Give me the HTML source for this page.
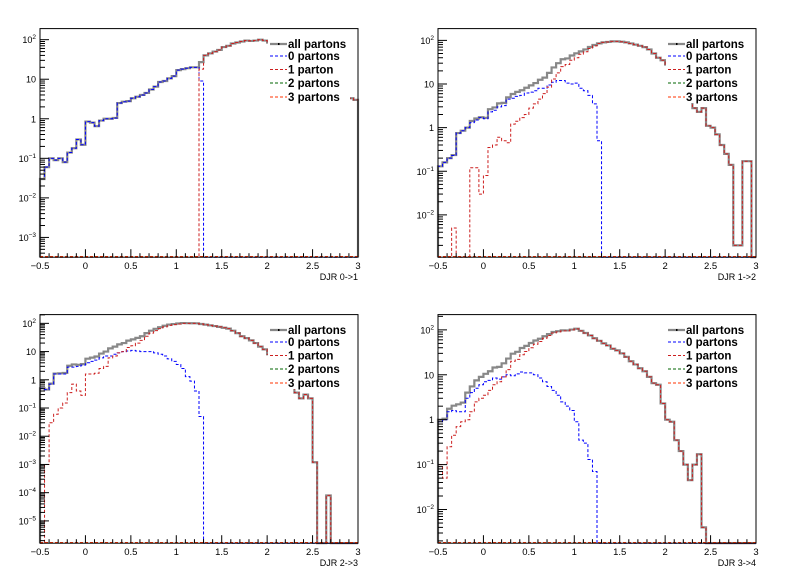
<!DOCTYPE html>
<html><head><meta charset="utf-8">
<style>
html,body{margin:0;padding:0;background:#fff;}
svg{display:block;font-family:"Liberation Sans",Arial,sans-serif;}
</style></head>
<body>
<svg id="chart" width="796" height="572" viewBox="0 0 796 572" xmlns="http://www.w3.org/2000/svg">
<rect x="0" y="0" width="796" height="572" fill="#fff"/>
</svg>
<script>
// Bin settings (DJR axis)
const binLow = -0.5;
const binWidth = 0.05;
const xTickLabels = ["-0.5","0","0.5","1","1.5","2","2.5","3"];
const xTickValues = [-0.5,0,0.5,1,1.5,2,2.5,3];
const panelTitles = ["DJR 0->1","DJR 1->2","DJR 2->3","DJR 3->4"];
const legendLabels = ["all partons","0 partons","1 parton","2 partons","3 partons"];

// Panel 1: DJR 0->1
const p1Zero = [0.03,0.06,0.1,0.09,0.1,0.08,0.14,0.18,0.3,0.22, 0.85,0.8,0.65,0.9,1.0,1.0,1.05,2.5,2.7,2.8, 3.3,3.6,4.0,4.5,5.5,6.5,8.5,9,10.5,12, 17,18,19,20,20,9, 0,0,0,0,0,0,0,0,0,0,0,0,0,0,0,0,0,0,0,0,0,0,0,0,0,0,0,0,0,0,0,0,0,0];
const p1One = [0,0,0,0,0,0,0,0,0,0, 0,0,0,0,0,0,0,0,0,0, 0,0,0,0,0,0,0,0,0,0, 0,0,0,0,0,18, 40,45,50,55,65,70,80,85,90,95,93,95,100,95, 85,75,65,55,45,36,28,22,17,13,10,8,6.5,5.5,4.8,4.2,3.8,3.8,3.3,3];
// Panel 2: DJR 1->2
const p2Zero = [0.13,0.16,0.2,0.23,0.75,0.85,1.0,1.3,1.5,1.7, 1.6,2.3,2.5,3.0,3.2,4.5,4.7,5.2,5.5,6.2, 6.5,7,8,8,9.5,11,12,12,10.5,10, 10.5,8,7,5.5,3.5,0.5, 0,0,0,0,0,0,0,0,0,0,0,0,0,0,0,0,0,0,0,0,0,0,0,0,0,0,0,0,0,0,0,0,0,0];
const p2One = [0,0,0,0.005,0,0,0,0.12,0.12,0.03, 0.08,0.35,0.4,0.6,0.5,0.45,1.2,1.4,1.7,2.0, 2.8,3.5,4.5,6,8.5,13,18,25,28,35, 40,48,55,65,75,85,90,92,95,95, 93,90,85,80,75,70,62,50,40,35, 28,22,17,12,8,5,2.8,2.3,2.8,1.1, 1.0,0.7,0.4,0.25,0.14,0.002,0.002,0.17,0.17,0];
// Panel 3: DJR 2->3
const p3Zero = [0.5,0.45,0.7,1.6,1.6,1.6,2.8,2.8,3,3.3, 4,4.5,5,6,7,7,8,9,10,10.5, 11,10.5,10,10,10,9,8,7,5.5,4.5, 3.5,2.5,1.3,0.9,0.4,0.05, 0,0,0,0,0,0,0,0,0,0,0,0,0,0,0,0,0,0,0,0,0,0,0,0,0,0,0,0,0,0,0,0,0,0];
const p3One = [0,0.001,0.03,0.06,0.1,0.15,0.35,0.7,0.4,0.28, 1.6,1.6,1.7,2.5,3.0,6,7,9,10,14, 16,20,25,35,45,55,65,75,85,90, 95,100,100,100,100,95,90,85,80,75, 70,65,55,45,35,30,25,20,15,12, 8,5,3,2,1.2,0.8,0.35,0.22,0.3,0.22, 0.0012,0,0,0.00008,0,0,0,0,0,0];
// Panel 4: DJR 3->4
const p4Zero = [0.9,1.0,1.5,1.6,1.5,1.5,3,4,5,6, 7,7.5,8.5,8,9,10,9.5,10.5,11.5,11, 11,10,8.5,7,5.5,4.5,3.5,2.5,2,1.6, 0.9,0.35,0.3,0.13,0.07, 0,0,0,0,0,0,0,0,0,0,0,0,0,0,0,0,0,0,0,0,0,0,0,0,0,0,0,0,0,0,0,0,0,0,0];
const p4One = [0.1,0.05,0.25,0.45,0.7,0.9,1.0,1.5,2.5,3, 3.5,4.5,6,7,9,13,20,22,28,33, 40,48,55,65,75,85,90,95,95,100, 105,95,85,75,65,57,50,45,38,35, 30,25,20,17,14,12,9,6.5,6,2.3, 1.0,0.9,0.35,0.2,0.1,0.045,0.1,0.17,0.004,0, 0,0,0,0,0,0,0,0,0,0];

// y-axis log ranges (decades) per panel
const logTop = [2.28,2.27,2.31,2.34];
const logBottom = [-3.5,-2.97,-5.79,-2.75];
const yDecadeLabels = [[2,1,0,-1,-2,-3],[2,1,0,-1,-2],[2,1,0,-1,-2,-3,-4,-5],[2,1,0,-1,-2]];

const zeroSeries = [p1Zero,p2Zero,p3Zero,p4Zero];
const oneSeries = [p1One,p2One,p3One,p4One];

const NS = "http://www.w3.org/2000/svg";
const svg = document.getElementById("chart");
function mk(tag, attrs, parent){
  const e = document.createElementNS(NS, tag);
  for (const k in attrs) e.setAttribute(k, attrs[k]);
  (parent||svg).appendChild(e);
  return e;
}

const padOrigins = [[0,0],[398,0],[0,286],[398,286]];
const colZero = "#0000ff", colOne = "#cc1f1f", colTwo = "#006600", colThree = "#ff3300", colAll = "#888888";

for (let p=0;p<4;p++){
  const ox = padOrigins[p][0], oy = padOrigins[p][1];
  const fx0 = ox+40, fx1 = ox+358, fy0 = oy+28.6, fy1 = oy+257.2;
  const xs = v => fx0 + (v - (-0.5)) / 3.5 * (fx1 - fx0);
  const ys = v => {
    if (v <= 0) return fy1;
    let l = Math.log10(v);
    if (l < logBottom[p]) return fy1;
    return fy0 + (logTop[p] - l) / (logTop[p] - logBottom[p]) * (fy1 - fy0);
  };
  const g = mk("g", {});
  
  

  // histogram path builder
  function histPath(vals){
    let d = "M" + xs(binLow).toFixed(2) + "," + fy1;
    for (let i=0;i<vals.length;i++){
      const xl = xs(binLow + i*binWidth), xr = xs(binLow + (i+1)*binWidth);
      const y = ys(vals[i]).toFixed(2);
      d += " L" + xl.toFixed(2) + "," + y + " L" + xr.toFixed(2) + "," + y;
    }
    d += " L" + xs(binLow + vals.length*binWidth).toFixed(2) + "," + fy1;
    return d;
  }
  const zs = zeroSeries[p], os = oneSeries[p];
  const allVals = zs.map((v,i)=> v + os[i]);

  const pa = mk("path", {d: histPath(allVals), fill:"none", stroke:colAll, "stroke-width":"2.2"}, g);
  
  
  const pz = mk("path", {d: histPath(zs), fill:"none", stroke:colZero, "stroke-width":"1", "stroke-dasharray":"3,2"}, g);
  
  
  const po = mk("path", {d: histPath(os), fill:"none", stroke:colOne, "stroke-width":"1", "stroke-dasharray":"3,2"}, g);
  
  
  const pt = mk("line", {x1:fx0, y1:fy1-0.5, x2:fx1, y2:fy1-0.5, stroke:colThree, "stroke-width":"1.5", "stroke-dasharray":"3,2"}, g);
  
  

  // frame
  const fr = mk("rect", {x:fx0, y:fy0, width:fx1-fx0, height:fy1-fy0, fill:"none", stroke:"#000", "stroke-width":"1"}, g);
  
  

  // x ticks
  const xa = mk("g", {}, g);
  
  
  for (let k=0;k<=35;k++){
    const v = -0.5 + k*0.1;
    const major = (k % 5 === 0);
    const x = xs(v);
    mk("line", {x1:x, y1:fy1, x2:x, y2:fy1-(major?8:4), stroke:"#000", "stroke-width":"1"}, xa);
  }
  for (let k=0;k<xTickValues.length;k++){
    const t = mk("text", {x:xs(xTickValues[k]), y:fy1+12, "font-size":"9.5", "text-anchor":"middle", fill:"#000"}, xa);
    
    
    t.textContent = xTickLabels[k].replace("-","\u2212");
  }
  const xt = mk("text", {x:fx1, y:fy1+23, "font-size":"9", "text-anchor":"end", fill:"#000"}, g);
  
  
  xt.textContent = panelTitles[p];

  // y ticks
  const ya = mk("g", {}, g);
  
  
  for (let d=Math.floor(logBottom[p]); d<=Math.ceil(logTop[p]); d++){
    for (let m=1;m<=9;m++){
      const l = d + Math.log10(m);
      if (l < logBottom[p] || l > logTop[p]) continue;
      const y = ys(Math.pow(10,l));
      mk("line", {x1:fx0, y1:y, x2:fx0+(m===1?9:5), y2:y, stroke:"#000", "stroke-width":"1"}, ya);
    }
  }
  for (const d of yDecadeLabels[p]){
    const y = ys(Math.pow(10,d));
    const t = mk("text", {x:fx0-4, y:y+3.5, "font-size":"9", "text-anchor":"end", fill:"#000"}, ya);
    
    
    if (d === 0) t.textContent = "1";
    else if (d === 1) t.textContent = "10";
    else {
      const b = mk("tspan", {}, t); b.textContent = "10";
      const s = mk("tspan", {dy:"-4", "font-size":"6.5"}, t); s.textContent = String(d).replace("-","\u2212");
    }
  }

  // legend
  const lg = mk("g", {}, g);
  
  
  mk("rect", {x:ox+268, y:oy+35, width:82, height:68, fill:"#fff"}, lg);
  const cols = [colAll,colZero,colOne,colTwo,colThree];
  const rowsY = [44,56,69.5,83,97];
  for (let r=0;r<5;r++){
    const y = oy + rowsY[r];
    const e = mk("g", {}, lg);
    
    
    if (r===0){
      mk("line", {x1:ox+270, y1:y, x2:ox+287, y2:y, stroke:colAll, "stroke-width":"2.2"}, e);
      mk("rect", {x:ox+278, y:y-1, width:1.5, height:2, fill:"#000"}, e);
    } else {
      mk("line", {x1:ox+270, y1:y, x2:ox+287, y2:y, stroke:cols[r], "stroke-width":"1", "stroke-dasharray":"3,2"}, e);
    }
    const t = mk("text", {x:ox+288, y:y+4, "font-size":"11.5", "font-weight":"bold", fill:"#000"}, e);
    t.textContent = legendLabels[r];
  }
}
</script>
</body></html>
